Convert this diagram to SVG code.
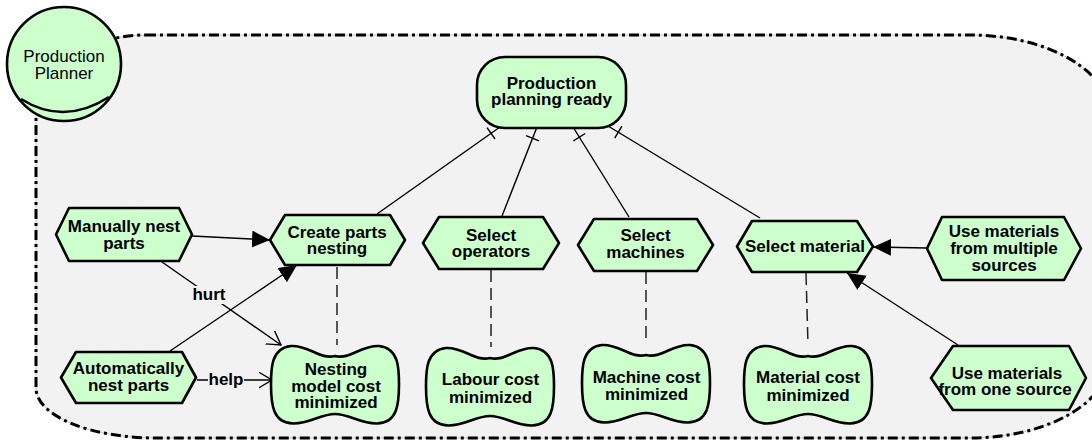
<svg xmlns="http://www.w3.org/2000/svg" width="1092" height="442" viewBox="0 0 1092 442">
<style>
text{font-family:"Liberation Sans",Arial,sans-serif;font-size:17px;fill:#000;text-anchor:middle}
.b{font-weight:bold}
.n{fill:#ccffcc;stroke:#000;stroke-width:2.6;stroke-linejoin:round}
.c{fill:none;stroke:#000;stroke-width:1.4}
.d{fill:none;stroke:#222;stroke-width:1.5;stroke-dasharray:12 6}
.lb{fill:#f2f2f2}
</style>
<defs>
<marker id="tri" markerUnits="userSpaceOnUse" markerWidth="20" markerHeight="20" refX="18" refY="8.5" orient="auto">
<path d="M0,0 L18,8.5 L0,17 Z" fill="#000"/>
</marker>
<marker id="open" markerUnits="userSpaceOnUse" markerWidth="16" markerHeight="18" refX="13.5" refY="8" orient="auto">
<path d="M0,0 L13.5,8 L0,16" fill="none" stroke="#000" stroke-width="1.4"/>
</marker>
<path id="cloud" d="M64,11 C79,15 90,0 108,1 C128,3 128,24 128,39.5 C128,60 126,78 106,78.5 C90,79 78,69 64,69 C50,69 38,79 22,78.5 C2,78 0,60 0,39.5 C0,24 0,3 20,1 C38,0 49,15 64,11 Z"/>
</defs>

<g id="boundary">
<path d="M146,35 L970,35 A140,80 0 0 1 1110,115 L1110,358 A140,80 0 0 1 970,438 L156,438 A120,50 0 0 1 36,388 L36,115 A110,80 0 0 1 146,35 Z" fill="#f2f2f2" stroke="#c8c8c8" stroke-width="1"/>
<path d="M146,35 L970,35 A140,80 0 0 1 1110,115 L1110,358 A140,80 0 0 1 970,438 L156,438 A120,50 0 0 1 36,388 L36,115 A110,80 0 0 1 146,35 Z" fill="none" stroke="#000" stroke-width="3" stroke-dasharray="10 4 3 4"/>
</g>

<g id="actor">
<circle cx="64" cy="64" r="57" class="n"/>
<path d="M21,99 Q64,126 109,97" fill="none" stroke="#000" stroke-width="2.6"/>
<text font-size="16.5"><tspan x="64" y="62">Production</tspan><tspan x="64" y="79">Planner</tspan></text>
</g>

<g id="connectors">
<line class="c" x1="377" y1="214" x2="500" y2="127"/>
<line class="c" x1="487" y1="127.6" x2="495" y2="139"/>
<line class="c" x1="502" y1="216" x2="537" y2="127"/>
<line class="c" x1="526" y1="135.6" x2="539" y2="140.8"/>
<line class="c" x1="629" y1="217" x2="573" y2="127"/>
<line class="c" x1="573.4" y1="140.9" x2="585.2" y2="133.5"/>
<line class="c" x1="760" y1="218" x2="608" y2="126"/>
<line class="c" x1="614.7" y1="138.2" x2="621.9" y2="126.2"/>
<line class="c" x1="192" y1="236" x2="270" y2="240" marker-end="url(#tri)"/>
<line class="c" x1="170" y1="351" x2="297" y2="265" marker-end="url(#tri)"/>
<line class="c" x1="927" y1="248" x2="873" y2="247" marker-end="url(#tri)"/>
<line class="c" x1="958" y1="345" x2="847" y2="273" marker-end="url(#tri)"/>
<line class="c" x1="162" y1="262" x2="281" y2="345" marker-end="url(#open)"/>
<line class="c" x1="197" y1="380" x2="272" y2="380" marker-end="url(#open)"/>
<line class="d" x1="337" y1="267" x2="337" y2="345"/>
<line class="d" x1="491" y1="270" x2="491" y2="347"/>
<line class="d" x1="646" y1="272" x2="646" y2="344"/>
<line class="d" x1="806" y1="273" x2="808" y2="345"/>
<rect class="lb" x="192" y="286" width="34" height="18"/>
<text class="b" x="209" y="300">hurt</text>
<rect class="lb" x="208" y="371" width="36" height="18"/>
<text class="b" x="226" y="385">help</text>
</g>

<g id="goal-ready">
<rect x="477" y="57" width="149" height="71" rx="28" ry="28" class="n"/>
<text class="b"><tspan x="551.5" y="89">Production</tspan><tspan x="551.5" y="105">planning ready</tspan></text>
</g>

<g id="task-manual">
<polygon class="n" points="56,234.5 69,208 179,208 192,234.5 179,261 69,261"/>
<text class="b"><tspan x="124" y="232">Manually nest</tspan><tspan x="124" y="249">parts</tspan></text>
</g>

<g id="task-create">
<polygon class="n" points="270,240 285,215 390,215 405,240 390,265 285,265"/>
<text class="b"><tspan x="337" y="238">Create parts</tspan><tspan x="337" y="254">nesting</tspan></text>
</g>

<g id="task-operators">
<polygon class="n" points="423,243 439,217 543,217 559,243 543,269 439,269"/>
<text class="b"><tspan x="491" y="241">Select</tspan><tspan x="491" y="257">operators</tspan></text>
</g>

<g id="task-machines">
<polygon class="n" points="578,245 594,219 697,219 713,245 697,271 594,271"/>
<text class="b"><tspan x="645.5" y="241">Select</tspan><tspan x="645.5" y="258">machines</tspan></text>
</g>

<g id="task-material">
<polygon class="n" points="737,246.5 752,221 857,221 873,246.5 857,272 752,272"/>
<text class="b" x="805" y="252">Select material</text>
</g>

<g id="task-multiple">
<polygon class="n" points="927,248.5 942,217 1064,217 1081,248.5 1064,280 942,280"/>
<text class="b"><tspan x="1004" y="237">Use materials</tspan><tspan x="1004" y="254">from multiple</tspan><tspan x="1004" y="271">sources</tspan></text>
</g>

<g id="task-one">
<polygon class="n" points="931,378 953,346 1069,346 1086,378 1069,410 953,410"/>
<text class="b"><tspan x="1007" y="379">Use materials</tspan><tspan x="1005" y="395">from one source</tspan></text>
</g>

<g id="task-auto">
<polygon class="n" points="61,377.5 76,352 182,352 196,377.5 182,403 76,403"/>
<text class="b"><tspan x="128.5" y="374">Automatically</tspan><tspan x="128.5" y="391">nest parts</tspan></text>
</g>

<g id="soft-nesting">
<use href="#cloud" class="n" transform="translate(271,345)"/>
<text class="b"><tspan x="336" y="375">Nesting</tspan><tspan x="336" y="392">model cost</tspan><tspan x="336" y="408">minimized</tspan></text>
</g>

<g id="soft-labour">
<use href="#cloud" class="n" transform="translate(426,347)"/>
<text class="b"><tspan x="490.5" y="385">Labour cost</tspan><tspan x="490.5" y="402.5">minimized</tspan></text>
</g>

<g id="soft-machine">
<use href="#cloud" class="n" transform="translate(582,344)"/>
<text class="b"><tspan x="646.5" y="383">Machine cost</tspan><tspan x="646.5" y="399.5">minimized</tspan></text>
</g>

<g id="soft-materialcost">
<use href="#cloud" class="n" transform="translate(744,345)"/>
<text class="b"><tspan x="808" y="383">Material cost</tspan><tspan x="808" y="400.5">minimized</tspan></text>
</g>
</svg>
